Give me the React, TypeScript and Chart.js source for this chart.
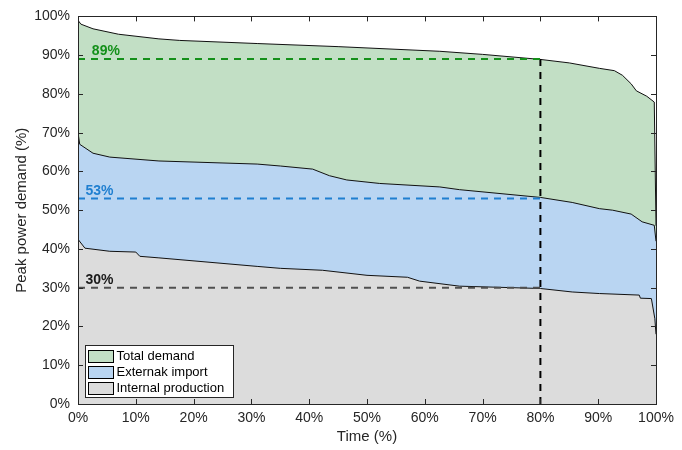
import { useEffect, useRef } from "react";
import { Chart, registerables } from "chart.js";

Chart.register(...registerables);

// ---- data (percent of time vs. percent of peak power demand) ----
const totalX = [0, 0.5, 2.6, 7, 14, 17.6, 31, 45, 62.6, 70, 80, 85, 90.2, 92.8, 94.2, 95.7, 96.6, 98.4, 99.7, 100];
const totalY = [99, 98, 96.8, 95.4, 94.2, 93.8, 93, 92.2, 91, 90.2, 88.9, 88, 86.6, 86, 84.8, 82.6, 80.8, 79.4, 77.9, 46];

const importX = [0, 0.3, 2.6, 5.5, 14, 31, 35, 40.6, 43.5, 46.5, 52.2, 62.6, 66, 80, 85.5, 90.2, 92.5, 95.7, 97.6, 99.7, 100];
const importY = [70, 67, 64.7, 63.7, 62.7, 61.9, 61.4, 60.6, 58.9, 57.8, 56.9, 56, 55.3, 53.3, 52, 50.4, 50, 49, 47, 46.1, 42];

const internalX = [0, 1.2, 5.5, 10, 10.7, 14, 31, 35, 42.3, 50, 57, 59.1, 66, 80, 85.5, 90.2, 97.1, 97.3, 99.2, 99.8, 100];
const internalY = [42.5, 40.2, 39.4, 39.2, 38.1, 37.7, 35.5, 35, 34.5, 33.2, 32.7, 31.7, 30.4, 29.8, 28.9, 28.5, 28.1, 27.3, 27.2, 22, 18];

const seriesNames = ["Total demand", "Externak import", "Internal production"];
const markerTime = 80;
const markerLevels = [89, 53, 30];
const markerLabels = ["89%", "53%", "30%"];
const tickValues = [0, 10, 20, 30, 40, 50, 60, 70, 80, 90, 100];

// ---- styles ----
const fillColors = ["#c2dfc5", "#b9d5f2", "#dcdcdc"];
const markerColors = ["#14901a", "#1f7fd0", "#505050"];
const labelColors = ["#14901a", "#1f7fd0", "#1a1a1a"];
const labelOffsets = [2.4, 1.3, 1.3];
const FONT = "'Liberation Sans', Arial, Helvetica, sans-serif";
const AXIS = "#262626";

const pts = (xs: number[], ys: number[]) => xs.map((x, i) => ({ x, y: ys[i] }));

const decor = {
  id: "decor",
  afterDatasetsDraw(chart: any) {
    const { ctx, chartArea: a, scales } = chart;
    const x = scales.x;
    const y = scales.y;
    ctx.save();
    // level labels
    ctx.font = `bold 14px ${FONT}`;
    ctx.textBaseline = "alphabetic";
    ctx.textAlign = "left";
    markerLevels.forEach((lv, i) => {
      ctx.fillStyle = labelColors[i];
      ctx.fillText(markerLabels[i], x.getPixelForValue(labelOffsets[i]), y.getPixelForValue(lv) - 4);
    });
    // inward ticks
    ctx.strokeStyle = AXIS;
    ctx.lineWidth = 1;
    ctx.beginPath();
    tickValues.forEach((v) => {
      const px = Math.round(x.getPixelForValue(v)) + 0.5;
      ctx.moveTo(px, a.bottom);
      ctx.lineTo(px, a.bottom - 5);
      ctx.moveTo(px, a.top);
      ctx.lineTo(px, a.top + 5);
      const py = Math.round(y.getPixelForValue(v)) + 0.5;
      ctx.moveTo(a.left, py);
      ctx.lineTo(a.left + 5, py);
      ctx.moveTo(a.right, py);
      ctx.lineTo(a.right - 5, py);
    });
    ctx.stroke();
    ctx.strokeRect(Math.round(a.left) + 0.5, Math.round(a.top) + 0.5, Math.round(a.right - a.left), Math.round(a.bottom - a.top));
    ctx.restore();
  },
  afterDraw(chart: any) {
    const { ctx, chartArea: a } = chart;
    ctx.save();
    const bx = Math.round(a.left) + 7.5;
    const bw = 148;
    const rowH = 16.3;
    const bh = 52;
    const by = Math.round(a.bottom) - 6.5 - bh;
    ctx.fillStyle = "#ffffff";
    ctx.fillRect(bx, by, bw, bh);
    ctx.strokeStyle = "#262626";
    ctx.lineWidth = 1;
    ctx.strokeRect(bx, by, bw, bh);
    ctx.font = `13px ${FONT}`;
    ctx.textBaseline = "middle";
    ctx.textAlign = "left";
    seriesNames.forEach((name, i) => {
      const cy = by + 10 + i * rowH;
      ctx.fillStyle = fillColors[i];
      ctx.fillRect(bx + 3, Math.round(cy - 6) + 0.5, 25, 12);
      ctx.strokeStyle = "#000";
      ctx.strokeRect(bx + 3, Math.round(cy - 6) + 0.5, 25, 12);
      ctx.fillStyle = "#000";
      ctx.fillText(name, bx + 31, cy + 0.5);
    });
    ctx.restore();
  },
};

export default function App() {
  const ref = useRef<HTMLCanvasElement | null>(null);

  useEffect(() => {
    if (!ref.current) return;
    const areaSets = [
      { label: seriesNames[0], data: pts(totalX, totalY), order: 3 },
      { label: seriesNames[1], data: pts(importX, importY), order: 2 },
      { label: seriesNames[2], data: pts(internalX, internalY), order: 1 },
    ].map((d, i) => ({
      ...d,
      fill: "origin",
      backgroundColor: fillColors[i],
      borderColor: "#111",
      borderWidth: 1,
      pointRadius: 0,
      tension: 0,
    }));
    const dashSets = markerLevels.map((lv, i) => ({
      label: "h" + i,
      data: [
        { x: 0, y: lv },
        { x: markerTime, y: lv },
      ],
      fill: false,
      borderColor: markerColors[i],
      borderWidth: 2,
      borderDash: [7, 6],
      pointRadius: 0,
      order: 0,
    }));
    const vSet = {
      label: "v",
      data: [
        { x: markerTime, y: 0 },
        { x: markerTime, y: markerLevels[0] },
      ],
      fill: false,
      borderColor: "#000",
      borderWidth: 2,
      borderDash: [7, 6],
      pointRadius: 0,
      order: 0,
    };
    const chart = new Chart(ref.current, {
      type: "line",
      data: { datasets: [...areaSets, ...dashSets, vSet] as any },
      options: {
        animation: false,
        responsive: true,
        maintainAspectRatio: false,
        layout: { padding: { left: 13, right: 26, top: 16, bottom: 4 } },
        plugins: { legend: { display: false }, tooltip: { enabled: false } },
        scales: {
          x: {
            type: "linear",
            min: 0,
            max: 100,
            grid: { display: false, drawTicks: false, tickLength: 0 },
            border: { display: false },
            afterFit: (s: any) => {
              s.height = 42;
            },
            ticks: {
              stepSize: 10,
              padding: 6,
              color: AXIS,
              font: { family: FONT, size: 14 },
              callback: (v: any) => v + "%",
            },
            title: {
              display: true,
              text: "Time (%)",
              color: AXIS,
              padding: 0,
              font: { family: FONT, size: 15 },
            },
          },
          y: {
            type: "linear",
            min: 0,
            max: 100,
            grid: { display: false, drawTicks: false, tickLength: 0 },
            border: { display: false },
            afterFit: (s: any) => {
              s.width = 65;
            },
            ticks: {
              stepSize: 10,
              padding: 8,
              color: AXIS,
              font: { family: FONT, size: 14 },
              callback: (v: any) => v + "%",
            },
            title: {
              display: true,
              text: "Peak power demand (%)",
              color: AXIS,
              padding: 0,
              font: { family: FONT, size: 15 },
            },
          },
        },
      },
      plugins: [decor],
    });
    return () => chart.destroy();
  }, []);

  return (
    <div style={{ position: "fixed", left: 0, top: 0, width: 682, height: 450, background: "#fff" }}>
      <canvas ref={ref} />
    </div>
  );
}
